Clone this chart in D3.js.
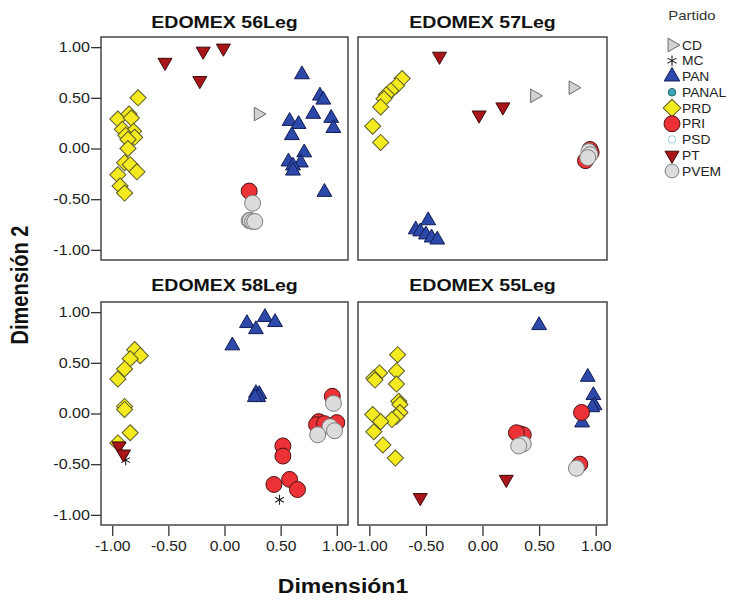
<!DOCTYPE html>
<html>
<head>
<meta charset="utf-8">
<script src="https://cdn.jsdelivr.net/npm/d3@7/dist/d3.min.js"></script>
<style>
  html, body { margin: 0; padding: 0; background: #fff; }
  svg { display: block; font-family: "Liberation Sans", Arial, sans-serif; }
</style>
</head>
<body>
<svg id="chart" width="745" height="600"></svg>
<script>
// Party list (legend order) and the tick values shared by every panel
const parties = ["CD", "MC", "PAN", "PANAL", "PRD", "PRI", "PSD", "PT", "PVEM"];
const tickValues = [-1, -0.5, 0, 0.5, 1];

// Coordinates of each party's members, per legislature: [party, Dimensión1, Dimensión2]
const leg56 = [
  ["CD", 0.30, 0.34],
  ["PAN", 0.69, 0.73], ["PAN", 0.85, 0.52], ["PAN", 0.88, 0.48], ["PAN", 0.79, 0.34],
  ["PAN", 0.95, 0.30], ["PAN", 0.97, 0.20], ["PAN", 0.58, 0.27], ["PAN", 0.66, 0.24],
  ["PAN", 0.60, 0.13], ["PAN", 0.71, -0.04], ["PAN", 0.57, -0.13], ["PAN", 0.68, -0.14],
  ["PAN", 0.61, -0.17], ["PAN", 0.61, -0.22], ["PAN", 0.89, -0.43],
  ["PRD", -0.77, 0.50], ["PRD", -0.95, 0.29], ["PRD", -0.85, 0.34], ["PRD", -0.83, 0.30],
  ["PRD", -0.91, 0.19], ["PRD", -0.81, 0.17], ["PRD", -0.88, 0.13], ["PRD", -0.80, 0.11],
  ["PRD", -0.86, 0.09], ["PRD", -0.86, 0.00], ["PRD", -0.89, -0.14], ["PRD", -0.84, -0.16],
  ["PRD", -0.78, -0.23], ["PRD", -0.95, -0.26], ["PRD", -0.93, -0.37], ["PRD", -0.89, -0.44],
  ["PRI", 0.22, -0.42],
  ["PT", -0.53, 0.85], ["PT", -0.19, 0.96], ["PT", -0.01, 0.99], ["PT", -0.22, 0.67],
  ["PVEM", 0.25, -0.54], ["PVEM", 0.22, -0.71], ["PVEM", 0.23, -0.71], ["PVEM", 0.25, -0.72],
  ["PVEM", 0.27, -0.72]
];
const leg57 = [
  ["CD", 0.46, 0.52], ["CD", 0.80, 0.60],
  ["PAN", -0.48, -0.71], ["PAN", -0.59, -0.80], ["PAN", -0.55, -0.82], ["PAN", -0.50, -0.85],
  ["PAN", -0.45, -0.88], ["PAN", -0.40, -0.90],
  ["PRD", -0.71, 0.69], ["PRD", -0.76, 0.62], ["PRD", -0.81, 0.57], ["PRD", -0.85, 0.53],
  ["PRD", -0.87, 0.49], ["PRD", -0.90, 0.41], ["PRD", -0.97, 0.22], ["PRD", -0.90, 0.06],
  ["PRI", 0.95, -0.01], ["PRI", 0.96, -0.04], ["PRI", 0.91, -0.12],
  ["PT", -0.38, 0.91], ["PT", -0.03, 0.33], ["PT", 0.18, 0.41],
  ["PVEM", 0.94, -0.03], ["PVEM", 0.95, -0.06], ["PVEM", 0.93, -0.09]
];
const leg58 = [
  ["MC", -0.88, -0.46], ["MC", 0.49, -0.85],
  ["PAN", 0.07, 0.67], ["PAN", 0.20, 0.89], ["PAN", 0.28, 0.83], ["PAN", 0.36, 0.95],
  ["PAN", 0.45, 0.90], ["PAN", 0.28, 0.20], ["PAN", 0.31, 0.19], ["PAN", 0.30, 0.16],
  ["PAN", 0.27, 0.16],
  ["PRD", -0.80, 0.63], ["PRD", -0.75, 0.57], ["PRD", -0.84, 0.54], ["PRD", -0.89, 0.44],
  ["PRD", -0.95, 0.34], ["PRD", -0.89, 0.07], ["PRD", -0.89, 0.04], ["PRD", -0.84, -0.19],
  ["PRD", -0.95, -0.29],
  ["PRI", 0.52, -0.32], ["PRI", 0.52, -0.42], ["PRI", 0.44, -0.70], ["PRI", 0.58, -0.65],
  ["PRI", 0.65, -0.75], ["PRI", 0.96, 0.17], ["PRI", 0.84, -0.08], ["PRI", 1.00, -0.09],
  ["PRI", 0.82, -0.11], ["PRI", 0.89, -0.10],
  ["PT", -0.94, -0.32], ["PT", -0.90, -0.40],
  ["PVEM", 0.97, 0.10], ["PVEM", 0.94, -0.13], ["PVEM", 0.83, -0.21], ["PVEM", 0.98, -0.17]
];
const leg55 = [
  ["PAN", 0.50, 0.87], ["PAN", 0.93, 0.36], ["PAN", 0.98, 0.18], ["PAN", 0.99, 0.08],
  ["PAN", 0.97, 0.06], ["PAN", 0.88, -0.09],
  ["PRD", -0.75, 0.58], ["PRD", -0.91, 0.40], ["PRD", -0.96, 0.35], ["PRD", -0.95, 0.33],
  ["PRD", -0.76, 0.42], ["PRD", -0.76, 0.29], ["PRD", -0.74, 0.12], ["PRD", -0.73, 0.09],
  ["PRD", -0.73, 0.01], ["PRD", -0.97, -0.01], ["PRD", -0.76, -0.03], ["PRD", -0.80, -0.06],
  ["PRD", -0.90, -0.08], ["PRD", -0.96, -0.18], ["PRD", -0.88, -0.31], ["PRD", -0.77, -0.44],
  ["PRI", 0.875, 0.01], ["PRI", 0.33, -0.20], ["PRI", 0.36, -0.21], ["PRI", 0.30, -0.19],
  ["PRI", 0.86, -0.50],
  ["PT", -0.55, -0.83], ["PT", 0.21, -0.65],
  ["PVEM", 0.36, -0.30], ["PVEM", 0.32, -0.32], ["PVEM", 0.83, -0.54]
];

const panels = [
  { title: "EDOMEX 56Leg", data: leg56, col: 0, row: 0 },
  { title: "EDOMEX 57Leg", data: leg57, col: 1, row: 0 },
  { title: "EDOMEX 58Leg", data: leg58, col: 0, row: 1 },
  { title: "EDOMEX 55Leg", data: leg55, col: 1, row: 1 }
];

// Marker appearance per party
const style = {
  CD:    { shape: "tri-right", size: 80,  fill: "#d2d2d2", stroke: "#6a6a6a" },
  MC:    { shape: "star",      size: 70,  fill: "none",    stroke: "#222" },
  PAN:   { shape: "tri-up",    size: 95,  fill: "#2c48a8", stroke: "#121c55" },
  PANAL: { shape: "circle",    size: 50,  fill: "#3aa9b5", stroke: "#22646b" },
  PRD:   { shape: "diamond",   size: 130, fill: "#f3ea20", stroke: "#5c5a2a" },
  PRI:   { shape: "circle",    size: 200, fill: "#ec3237", stroke: "#4a1212" },
  PSD:   { shape: "circle",    size: 50,  fill: "#ffffff", stroke: "#8cd2da" },
  PT:    { shape: "tri-down",  size: 85,  fill: "#a8161a", stroke: "#3a0a0a" },
  PVEM:  { shape: "circle",    size: 200, fill: "#dcdcdc", stroke: "#7c7c7c" }
};

const symbolPath = (shape, size) => {
  if (shape === "circle") return d3.symbol(d3.symbolCircle, size)();
  if (shape === "diamond") return d3.symbol(d3.symbolSquare, size)();
  if (shape === "star") return d3.symbol(d3.symbolAsterisk, size)();
  return d3.symbol(d3.symbolTriangle, size)();
};
const symbolRotate = shape =>
  shape === "diamond" ? 45 : shape === "tri-right" ? 90 : shape === "tri-down" ? 180 : 0;

function drawMarker(g, party, x, y, scale = 1) {
  const s = style[party];
  g.append("path")
    .attr("d", symbolPath(s.shape, s.size * scale))
    .attr("transform", `translate(${x},${y}) rotate(${symbolRotate(s.shape)})`)
    .attr("fill", s.fill)
    .attr("stroke", s.stroke)
    .attr("stroke-width", s.shape === "star" ? 1.1 : 1);
}

// Text widened slightly on the horizontal axis
const SX = 1.15;
function wideText(g, x, y, str, size, weight, anchor = "middle", rotate = 0) {
  return g.append("text")
    .attr("transform", `translate(${x},${y}) rotate(${rotate}) scale(${rotate ? 1 : SX},${rotate ? SX : 1})`)
    .attr("text-anchor", anchor)
    .attr("font-size", size)
    .attr("font-weight", weight)
    .attr("fill", "#111")
    .text(str);
}

// Two decimals with a plain hyphen as minus sign
const tickFmt = d => d3.format(".2f")(d).replace("\u2212", "-");

const svg = d3.select("#chart");

const colX = [[101, 348], [358, 607]];
const rowY = [[37, 260], [302, 525]];
const titleY = [28, 291];

panels.forEach(p => {
  const [x0, x1] = colX[p.col];
  const [y0, y1] = rowY[p.row];
  const x = d3.scaleLinear().domain([-1.1, 1.1]).range([x0, x1]);
  const y = d3.scaleLinear().domain([-1.1, 1.1]).range([y1, y0]);
  const g = svg.append("g");

  wideText(g, (x0 + x1) / 2, titleY[p.row], p.title, 17, "bold");

  g.append("rect")
    .attr("x", x0).attr("y", y0)
    .attr("width", x1 - x0).attr("height", y1 - y0)
    .attr("fill", "#fff").attr("stroke", "#3a3a3a").attr("stroke-width", 1.4);

  const marks = g.append("g");
  parties.forEach(party => {
    p.data.filter(d => d[0] === party)
      .forEach(d => drawMarker(marks, party, x(d[1]), y(d[2])));
  });

  if (p.col === 0) {
    const ax = g.append("g")
      .attr("transform", `translate(${x0},0)`)
      .call(d3.axisLeft(y).tickValues(tickValues).tickSize(10).tickPadding(1).tickFormat(tickFmt));
    ax.select(".domain").remove();
    ax.selectAll("line").attr("stroke", "#333").attr("stroke-width", 1.3);
    ax.selectAll("text")
      .attr("font-size", 14).attr("fill", "#222")
      .attr("font-family", "'Liberation Sans', Arial, sans-serif")
      .attr("transform", `scale(${SX},1)`)
      .attr("x", -11 / SX);
  }
  if (p.row === 1) {
    const ax = g.append("g")
      .attr("transform", `translate(0,${y1 + 1})`)
      .call(d3.axisBottom(x).tickValues(tickValues).tickSize(10).tickPadding(5).tickFormat(tickFmt));
    ax.select(".domain").remove();
    ax.selectAll("line").attr("stroke", "#333").attr("stroke-width", 1.3);
    ax.selectAll("text")
      .attr("font-size", 14.5).attr("fill", "#222")
      .attr("font-family", "'Liberation Sans', Arial, sans-serif")
      .attr("transform", `scale(1.08,1)`);
  }
});

// Axis titles
wideText(svg, 343, 593, "Dimensión1", 20, "bold");
wideText(svg, 28, 285, "Dimensión 2", 20, "bold", "middle", -90);

// Legend
const lg = svg.append("g");
wideText(lg, 692, 20, "Partido", 13, "normal").attr("fill", "#333");
const legendScale = { CD: 1.0, MC: 1.1, PAN: 1.1, PANAL: 0.9, PRD: 1.2, PRI: 1.0, PSD: 0.9, PT: 1.0, PVEM: 0.75 };
parties.forEach((party, i) => {
  const cy = 45 + i * 15.75;
  drawMarker(lg, party, 672, cy, legendScale[party]);
  wideText(lg, 682, cy + 4.5, party, 12, "normal", "start").attr("fill", "#222");
});
</script>
</body>
</html>
